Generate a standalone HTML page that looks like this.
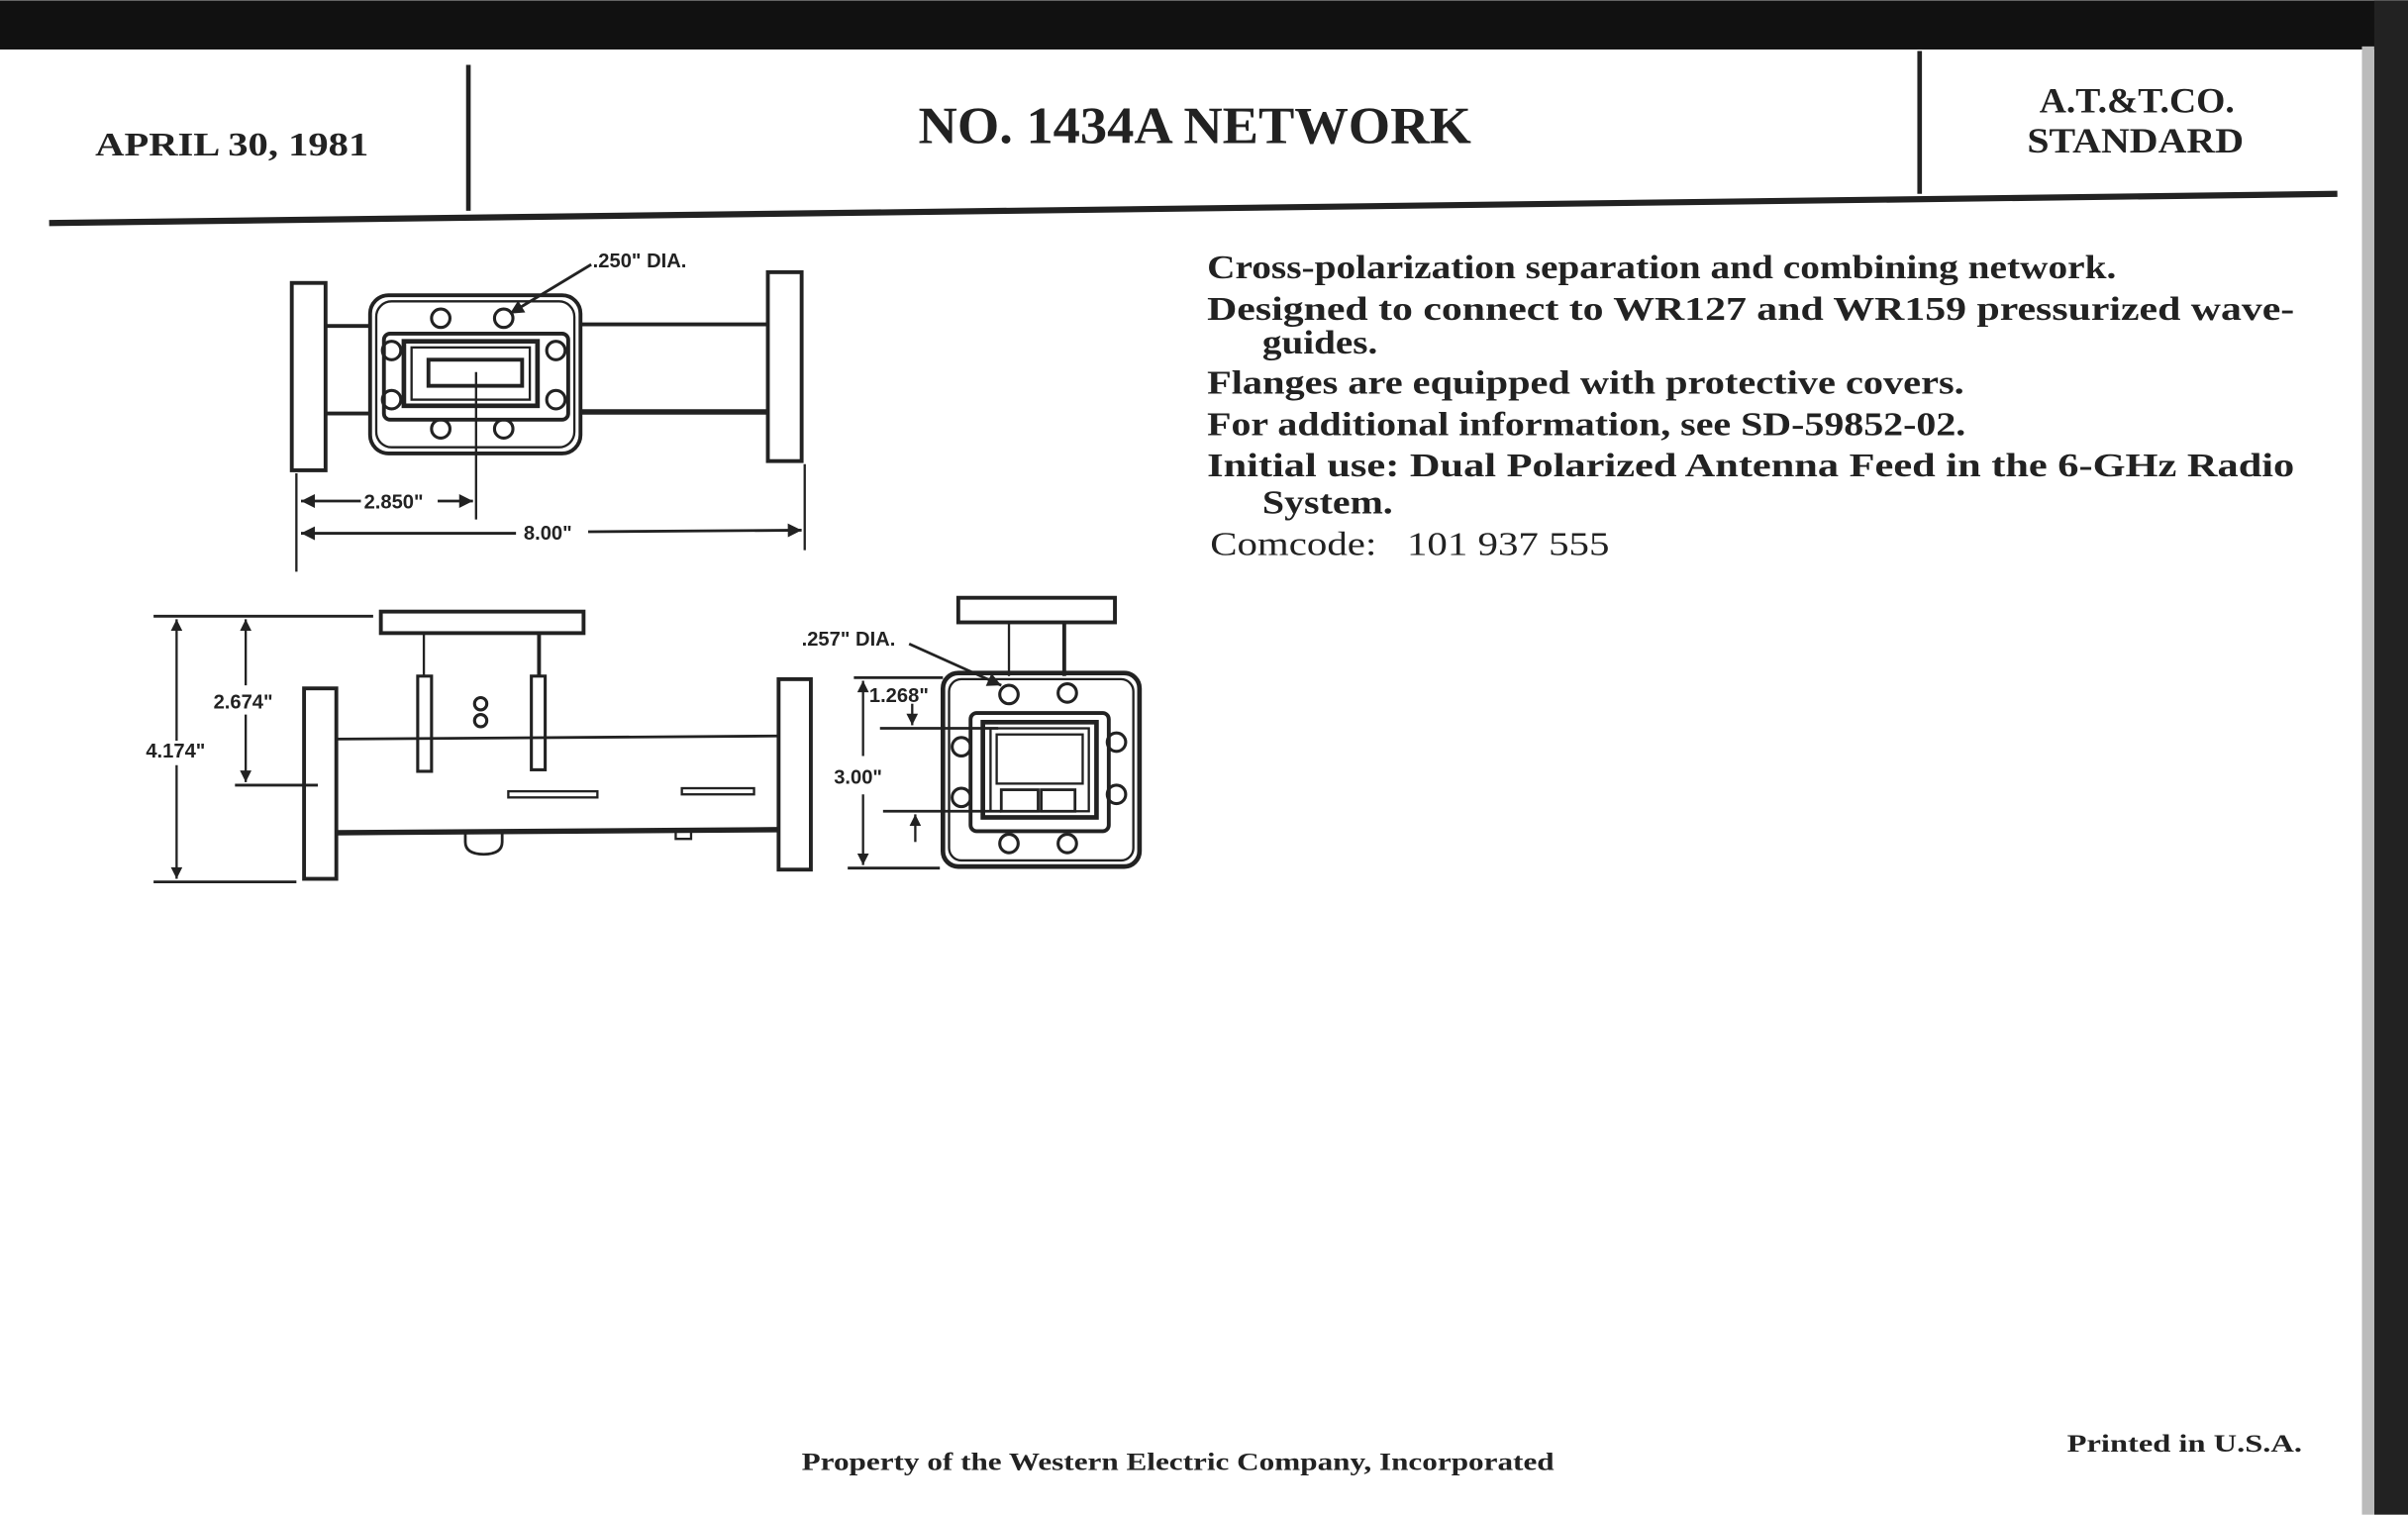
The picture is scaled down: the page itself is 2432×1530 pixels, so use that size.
<!DOCTYPE html>
<html><head><meta charset="utf-8"><style>
html,body{margin:0;padding:0;background:#fff;}
svg{display:block;}
.s{font-family:"Liberation Serif",serif;font-weight:bold;fill:#222;}
.d{font-family:"Liberation Sans",sans-serif;font-weight:bold;fill:#222;font-size:13px;}
</style></head><body>
<svg width="2432" height="1530" viewBox="0 0 1568 986" xmlns="http://www.w3.org/2000/svg">
<defs><marker id="a" viewBox="0 0 10 10" refX="10" refY="5" markerWidth="6" markerHeight="5" orient="auto-start-reverse"><path d="M0,0L10,5L0,10z" fill="#222"/></marker></defs>
<rect width="1568" height="986" fill="#fff"/>
<rect x="0" y="0" width="1568" height="32" fill="#111"/>
<rect x="1546" y="0" width="22" height="986" fill="#222"/>
<rect x="1538" y="30" width="8" height="956" fill="#bbb"/>
<g stroke="#222" fill="none">
<line x1="305" y1="42" x2="305" y2="137" stroke-width="3"/>
<line x1="1250" y1="33" x2="1250" y2="126" stroke-width="3"/>
<line x1="32" y1="145" x2="1522" y2="126" stroke-width="4"/>
</g>
<g class="s" lengthAdjust="spacingAndGlyphs">
<text x="62" y="101" font-size="22" textLength="178" lengthAdjust="spacingAndGlyphs">APRIL 30, 1981</text>
<text x="598" y="93" font-size="34" textLength="360" lengthAdjust="spacingAndGlyphs">NO. 1434A NETWORK</text>
<text x="1328" y="73" font-size="23" textLength="127" lengthAdjust="spacingAndGlyphs">A.T.&amp;T.CO.</text>
<text x="1320" y="99" font-size="23" textLength="141" lengthAdjust="spacingAndGlyphs">STANDARD</text>
</g>
<g class="s" font-size="22">
<text x="786" y="181" textLength="592" lengthAdjust="spacingAndGlyphs">Cross-polarization separation and combining network.</text>
<text x="786" y="208" textLength="708" lengthAdjust="spacingAndGlyphs">Designed to connect to WR127 and WR159 pressurized wave-</text>
<text x="822" y="230" textLength="75" lengthAdjust="spacingAndGlyphs">guides.</text>
<text x="786" y="256" textLength="493" lengthAdjust="spacingAndGlyphs">Flanges are equipped with protective covers.</text>
<text x="786" y="283" textLength="494" lengthAdjust="spacingAndGlyphs">For additional information, see SD-59852-02.</text>
<text x="786" y="310" textLength="708" lengthAdjust="spacingAndGlyphs">Initial use: Dual Polarized Antenna Feed in the 6-GHz Radio</text>
<text x="822" y="334" textLength="85" lengthAdjust="spacingAndGlyphs">System.</text>
<text x="788" y="361" font-weight="normal" textLength="260" lengthAdjust="spacingAndGlyphs" xml:space="preserve">Comcode:   101 937 555</text>
</g>
<text class="s" x="522" y="957" font-size="16" textLength="490" lengthAdjust="spacingAndGlyphs">Property of the Western Electric Company, Incorporated</text>
<text class="s" x="1346" y="945" font-size="16" textLength="153" lengthAdjust="spacingAndGlyphs">Printed in U.S.A.</text>
<g stroke="#222" fill="none" stroke-width="2.5">
<rect x="190" y="184" width="22" height="122"/>
<rect x="500" y="177" width="22" height="123"/>
<line x1="212" y1="212" x2="242" y2="212"/><line x1="377" y1="211" x2="500" y2="211"/>
<line x1="212" y1="269" x2="242" y2="269"/><line x1="377" y1="268" x2="500" y2="268" stroke-width="3.5"/>
<rect x="241" y="192" width="137" height="103" rx="12"/>
<rect x="245" y="196" width="129" height="95" rx="10" stroke-width="1.5"/>
<rect x="250" y="217" width="120" height="56" rx="4"/>
<rect x="263" y="222" width="87" height="42" stroke-width="3"/>
<rect x="268" y="226" width="77" height="34" stroke-width="1.5"/>
<rect x="279" y="234" width="61" height="17"/>
<g stroke-width="2"><circle cx="287" cy="207" r="6"/><circle cx="328" cy="207" r="6"/><circle cx="287" cy="279" r="6"/><circle cx="328" cy="279" r="6"/><circle cx="255" cy="228" r="6"/><circle cx="255" cy="260" r="6"/><circle cx="362" cy="228" r="6"/><circle cx="362" cy="260" r="6"/></g>
<line x1="310" y1="242" x2="310" y2="338" stroke-width="1.5"/>
<line x1="385" y1="172" x2="332" y2="204" stroke-width="1.8" marker-end="url(#a)"/>
<line x1="193" y1="308" x2="193" y2="372" stroke-width="1.5"/>
<line x1="524" y1="302" x2="524" y2="358" stroke-width="1.5"/>
<line x1="196" y1="326" x2="235" y2="326" stroke-width="1.8" marker-start="url(#a)"/>
<line x1="285" y1="326" x2="308" y2="326" stroke-width="1.8" marker-end="url(#a)"/>
<line x1="196" y1="347" x2="336" y2="347" stroke-width="1.8" marker-start="url(#a)"/>
<line x1="383" y1="346" x2="522" y2="345" stroke-width="1.8" marker-end="url(#a)"/>
<rect x="248" y="398" width="132" height="14"/>
<line x1="276" y1="412" x2="276" y2="440" stroke-width="1.5"/><line x1="351" y1="412" x2="351" y2="440"/>
<rect x="272" y="440" width="9" height="62" stroke-width="2"/>
<rect x="346" y="440" width="9" height="61" stroke-width="2"/>
<circle cx="313" cy="458" r="4" stroke-width="2"/><circle cx="313" cy="469" r="4" stroke-width="2"/>
<rect x="198" y="448" width="21" height="124"/>
<rect x="507" y="442" width="21" height="124"/>
<line x1="219" y1="481" x2="507" y2="479" stroke-width="1.8"/>
<line x1="219" y1="542" x2="507" y2="540" stroke-width="3.5"/>
<rect x="331" y="515" width="58" height="4" stroke-width="1.5"/>
<rect x="444" y="513" width="47" height="4" stroke-width="1.5"/>
<path d="M303,542 v6 q0,8 12,8 q12,0 12,-8 v-6" stroke-width="1.8"/>
<path d="M440,541 v5 h10 v-5" stroke-width="1.5"/>
<line x1="100" y1="401" x2="243" y2="401" stroke-width="1.8"/>
<line x1="153" y1="511" x2="207" y2="511" stroke-width="1.8"/>
<line x1="100" y1="574" x2="193" y2="574" stroke-width="1.8"/>
<line x1="115" y1="403" x2="115" y2="482" stroke-width="1.5" marker-start="url(#a)"/>
<line x1="115" y1="498" x2="115" y2="572" stroke-width="1.5" marker-end="url(#a)"/>
<line x1="160" y1="403" x2="160" y2="446" stroke-width="1.5" marker-start="url(#a)"/>
<line x1="160" y1="465" x2="160" y2="509" stroke-width="1.5" marker-end="url(#a)"/>
<rect x="624" y="389" width="102" height="16"/>
<line x1="657" y1="405" x2="657" y2="440" stroke-width="1.5"/><line x1="693" y1="405" x2="693" y2="440"/>
<rect x="614" y="438" width="128" height="126" rx="10" stroke-width="3"/>
<rect x="618" y="442" width="120" height="118" rx="8" stroke-width="1.5"/>
<rect x="632" y="464" width="90" height="77" rx="4"/>
<rect x="640" y="470" width="74" height="62" stroke-width="3"/>
<rect x="645" y="474" width="64" height="54" stroke-width="1.5"/>
<rect x="649" y="478" width="56" height="32" stroke-width="1.5"/>
<rect x="652" y="514" width="24" height="14" stroke-width="1.8"/>
<rect x="678" y="514" width="22" height="14" stroke-width="1.8"/>
<g stroke-width="2"><circle cx="657" cy="452" r="6"/><circle cx="695" cy="451" r="6"/><circle cx="657" cy="549" r="6"/><circle cx="695" cy="549" r="6"/><circle cx="626" cy="486" r="6"/><circle cx="626" cy="519" r="6"/><circle cx="727" cy="483" r="6"/><circle cx="727" cy="517" r="6"/></g>
<line x1="592" y1="419" x2="652" y2="446" stroke-width="1.8" marker-end="url(#a)"/>
<line x1="556" y1="441" x2="614" y2="441" stroke-width="1.8"/>
<line x1="573" y1="474" x2="650" y2="474" stroke-width="1.8"/>
<line x1="575" y1="528" x2="652" y2="528" stroke-width="1.8"/>
<line x1="552" y1="565" x2="612" y2="565" stroke-width="1.8"/>
<line x1="562" y1="443" x2="562" y2="492" stroke-width="1.5" marker-start="url(#a)"/>
<line x1="562" y1="517" x2="562" y2="563" stroke-width="1.5" marker-end="url(#a)"/>
<line x1="594" y1="458" x2="594" y2="472" stroke-width="1.5" marker-end="url(#a)"/>
<line x1="596" y1="548" x2="596" y2="530" stroke-width="1.5" marker-end="url(#a)"/>
</g>
<text class="d" x="386" y="174">.250" DIA.</text>
<text class="d" x="237" y="331">2.850"</text>
<text class="d" x="341" y="351">8.00"</text>
<text class="d" x="139" y="461">2.674"</text>
<text class="d" x="95" y="493">4.174"</text>
<text class="d" x="522" y="420">.257" DIA.</text>
<text class="d" x="566" y="457">1.268"</text>
<text class="d" x="543" y="510">3.00"</text>
</svg>
</body></html>
